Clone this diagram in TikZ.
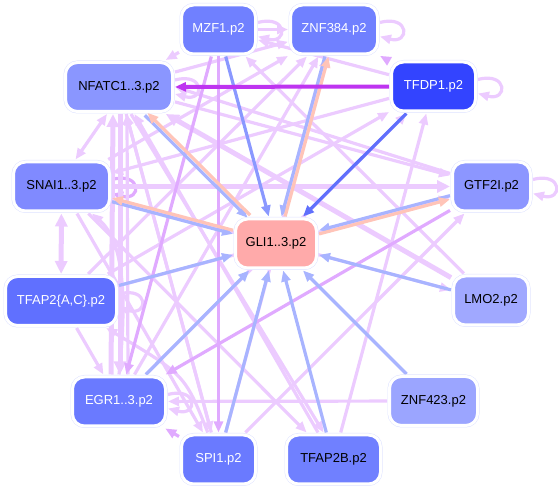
\documentclass[tikz,border=0pt]{standalone}
\usepackage{fontspec}
\setmainfont{Liberation Sans}
\usetikzlibrary{arrows.meta}
\definecolor{lpc}{RGB}{236,203,255}
\definecolor{mpc}{RGB}{224,170,255}
\definecolor{blc}{RGB}{168,180,255}
\definecolor{mbc}{RGB}{138,152,255}
\definecolor{dbc}{RGB}{96,112,252}
\definecolor{salc}{RGB}{255,196,184}
\definecolor{spc}{RGB}{190,52,240}
\definecolor{halo}{RGB}{222,226,255}
\definecolor{cMZ}{RGB}{112,128,255}
\definecolor{cNF}{RGB}{138,150,255}
\definecolor{cTD}{RGB}{51,68,255}
\definecolor{cSN}{RGB}{128,138,255}
\definecolor{cGT}{RGB}{140,150,255}
\definecolor{cGL}{RGB}{255,170,170}
\definecolor{cTA}{RGB}{96,112,255}
\definecolor{cLM}{RGB}{160,168,255}
\definecolor{cEG}{RGB}{106,122,255}
\definecolor{cZF}{RGB}{155,165,255}
\pgfdeclarelayer{bg}
\pgfsetlayers{bg,main}
\begin{document}
\begin{tikzpicture}[x=1pt,y=-1pt,
  box/.style={rounded corners=12pt, minimum height=49pt, inner sep=0pt, outer sep=2.5pt,
    font=\fontsize{13}{15}\selectfont, fill=#1,
    preaction={draw=halo,line width=4pt}, draw=white, line width=3pt},
  wt/.style={text=white},
  tip/.style={-{Triangle[length=11pt,width=9pt]}},
  e/.style={line width=3.2pt, tip},
  lp/.style={e, draw=lpc},
  lpt/.style={e, draw=lpc, line width=5pt, -{Triangle[length=13pt,width=12pt]}},
  mp/.style={e, draw=mpc},
  bl/.style={e, draw=blc},
  mb/.style={e, draw=mbc},
  db/.style={e, draw=dbc},
  sal/.style={e, draw=salc},
  sp/.style={e, draw=spc, line width=4pt}]
\useasboundingbox (0,0) rectangle (558,489);
\node[box=cMZ, wt, minimum width=74pt] (MZ) at (218.5,29.5) {MZF1.p2};
\node[box=cMZ, wt, minimum width=87pt] (ZN) at (334,29.5) {ZNF384.p2};
\node[box=cNF, minimum width=107pt] (NF) at (119,87) {NFATC1..3.p2};
\node[box=cTD, wt, minimum width=84pt] (TD) at (433.5,86.5) {TFDP1.p2};
\node[box=cSN, minimum width=96pt] (SN) at (61.5,186.5) {SNAI1..3.p2};
\node[box=cGT, minimum width=78pt] (GT) at (491.5,186.5) {GTF2I.p2};
\node[box=cGL, minimum width=81pt] (GL) at (276,243.5) {GLI1..3.p2};
\node[box=cTA, wt, minimum width=111pt] (TA) at (61,301) {TFAP2\{A,C\}.p2};
\node[box=cLM, minimum width=75pt] (LM) at (491,300.5) {LMO2.p2};
\node[box=cEG, wt, minimum width=93pt] (EG) at (119,401.5) {EGR1..3.p2};
\node[box=cZF, minimum width=88pt] (ZF) at (433.5,401) {ZNF423.p2};
\node[box=cEG, wt, minimum width=74pt] (SP) at (218.5,459.5) {SPI1.p2};
\node[box=cMZ, minimum width=94pt] (TB) at (333.5,459.5) {TFAP2B.p2};
\begin{pgfonlayer}{bg}
% self loops
\draw[lp] ([yshift=7pt]MZ.east) .. controls +(30,-8) and +(30,8) .. ([yshift=-7pt]MZ.east);
\draw[lp] ([yshift=7pt]ZN.east) .. controls +(30,-8) and +(30,8) .. ([yshift=-7pt]ZN.east);
\draw[lp] ([yshift=7pt]TD.east) .. controls +(30,-8) and +(30,8) .. ([yshift=-7pt]TD.east);
\draw[lp] ([yshift=7pt]GT.east) .. controls +(30,-8) and +(30,8) .. ([yshift=-7pt]GT.east);
\draw[lp] ([yshift=7pt]NF.east) .. controls +(30,-8) and +(30,8) .. ([yshift=-7pt]NF.east);
\draw[mp] ([yshift=7pt]SN.east) .. controls +(30,-8) and +(30,8) .. ([yshift=-7pt]SN.east);
\draw[lp] ([yshift=7pt]TA.east) .. controls +(30,-8) and +(30,8) .. ([yshift=-7pt]TA.east);
\draw[lp] ([yshift=7pt]EG.east) .. controls +(30,-8) and +(30,8) .. ([yshift=-7pt]EG.east);
% light purple network
\draw[lp] (MZ) -- (NF);
\draw[lp] (MZ) -- (ZN);
\draw[mp] (TD) -- (ZN);
\draw[lp] (TD) -- (MZ);
\draw[lp] (TD) -- (SN);
\draw[lp] (NF) -- (ZN);
\draw[lp] (SN) -- (ZN);
\draw[lp] (TA) -- (ZN);
\draw[lp] (EG) -- (ZN);
\draw[lp] (SP) -- (ZN);
\draw[lp] (EG) -- (TD);
\draw[lp] (TA) -- (TD);
\draw[lp] (TB) -- (TD);
\draw[lpt] ([xshift=-8pt]EG.north) -- ([xshift=-6pt]NF.south);
\draw[lpt] ([xshift=1pt]NF.south) -- ([xshift=1pt]EG.north);
\draw[lp] ([xshift=9pt]EG.north) -- ([xshift=8pt]NF.south);
\draw[lp] (SP) -- (NF);
\draw[lp] (NF) -- (SP);
\draw[lp] (TB) -- (NF);
\draw[lp] ([xshift=12pt]NF.south) -- ([xshift=-10pt]TB.north);
\draw[lp] (SN) -- (TB);
\draw[lp] (SN) -- (SP);
\draw[lp, {Triangle[length=11pt,width=9pt]}-{Triangle[length=11pt,width=9pt]}] ([xshift=-12pt]NF.south) -- ([xshift=14pt]SN.north);
\draw[lpt] (SN) -- (GT);
\draw[lp] (NF) -- (GT);
\draw[lp] (GT) -- (NF.east);
\draw[lpt] (LM) -- (NF);
\draw[lp] (LM) -- (MZ);
\draw[lp] (SN) -- (LM);
\draw[lp] (TA) -- (GT);
\draw[lpt, {Triangle[length=13pt,width=12pt]}-{Triangle[length=13pt,width=12pt]}] (SN) -- (TA);
\draw[lp] (TA) -- (EG);
\draw[mp] (SP) -- (EG);
\draw[lp] (SP) .. controls (185,375) .. (TA);
\draw[lp] (EG.north) .. controls (128,290) and (122,240) .. (SN);
\draw[lp] (ZF) -- (EG);
\draw[lp] (SP) -- (GT);
\draw[mp] (GT) -- (EG);
\draw[mp] (MZ) -- (SP);
\draw[mp] (MZ) -- (EG);
% blue / salmon edges to GLI
\draw[mb] (MZ) -- (GL);
\draw[bl, transform canvas={xshift=-1.8pt}] (ZN) -- (GL);
\draw[sal, transform canvas={xshift=1.8pt}] (GL) -- (ZN);
\draw[db] (TD) -- (GL);
\draw[bl, transform canvas={xshift=-1.3pt,yshift=-1.3pt}] (NF) -- (GL);
\draw[sal, transform canvas={xshift=1.3pt,yshift=1.3pt}] (GL) -- (NF);
\draw[bl, transform canvas={yshift=-1.8pt}] (SN) -- (GL);
\draw[sal, transform canvas={yshift=1.8pt}] (GL) -- (SN);
\draw[bl, transform canvas={yshift=1.8pt}] (GT) -- (GL);
\draw[sal, transform canvas={yshift=-1.8pt}] (GL) -- (GT);
\draw[bl] (TA) -- (GL);
\draw[bl] (LM) -- (GL);
\draw[bl] (EG) -- (GL);
\draw[bl] (SP) -- (GL);
\draw[bl] (TB) -- (GL);
\draw[bl] (ZF) -- (GL);
\draw[sp] (TD) -- (NF);
\end{pgfonlayer}
\end{tikzpicture}
\end{document}
